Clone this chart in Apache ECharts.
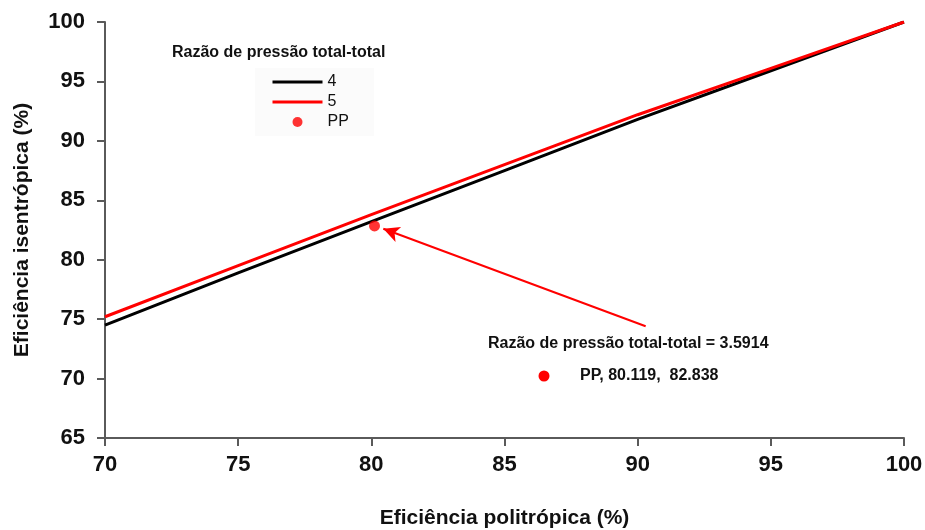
<!DOCTYPE html>
<html><head><meta charset="utf-8">
<script src="https://cdn.jsdelivr.net/npm/echarts@6/dist/echarts.min.js"></script>
<style>html,body{margin:0;padding:0;background:#fff}#c{width:925px;height:530px}</style>
</head><body><div id="c"></div>
<script>
// Data
const polytropic = [70, 75, 80, 85, 90, 95, 100];
const isentropic4 = [74.5, 78.9, 83.2, 87.5, 91.8, 95.9, 100];
const isentropic5 = [75.2, 79.5, 83.8, 88.0, 92.2, 96.1, 100];
const ppPoint = [80.119, 82.838];
const arrowFrom = [90.3, 74.4];
const arrowTo = [80.45, 82.6];
const seriesNames = ['4', '5', 'PP'];
const legendTitle = 'Razão de pressão total-total';
const noteLine1 = 'Razão de pressão total-total = 3.5914';
const noteLine2 = 'PP, 80.119,  82.838';

const FONT = "'Liberation Sans', Arial, sans-serif";
const chart = echarts.init(document.getElementById('c'), null, {renderer: 'canvas'});
const axisCol = '#5a5a5a';
const hiddenSymbol = {color: 'rgba(0,0,0,0)', borderColor: 'rgba(0,0,0,0)', borderWidth: 0};

chart.setOption({
  animation: false,
  backgroundColor: '#ffffff',
  grid: {left: 105, right: 21, top: 22, bottom: 92, containLabel: false, outerBoundsMode: 'none'},
  xAxis: {
    type: 'value', min: 70, max: 100, interval: 5,
    name: 'Eficiência politrópica (%)', nameLocation: 'middle', nameGap: 70,
    nameTextStyle: {fontFamily: FONT, fontWeight: 'bold', fontSize: 21, color: '#111'},
    axisLine: {show: true, onZero: false, lineStyle: {color: axisCol, width: 2}},
    axisTick: {show: true, length: 8, lineStyle: {color: axisCol, width: 2}},
    axisLabel: {fontFamily: FONT, fontWeight: 'bold', fontSize: 22, color: '#111', margin: 16},
    splitLine: {show: false}
  },
  yAxis: {
    type: 'value', min: 65, max: 100, interval: 5,
    name: 'Eficiência isentrópica (%)', nameLocation: 'middle', nameGap: 72,
    nameTextStyle: {fontFamily: FONT, fontWeight: 'bold', fontSize: 21, color: '#111'},
    axisLine: {show: true, onZero: false, lineStyle: {color: axisCol, width: 2}},
    axisTick: {show: true, length: 8, lineStyle: {color: axisCol, width: 2}},
    axisLabel: {fontFamily: FONT, fontWeight: 'bold', fontSize: 22, color: '#111', margin: 20},
    splitLine: {show: false}
  },
  legend: {
    orient: 'vertical', left: 255, top: 68,
    padding: [6, 25, 6, 16],
    backgroundColor: '#fbfbfb',
    itemWidth: 50, itemHeight: 10, itemGap: 4,
    textStyle: {fontFamily: FONT, fontSize: 16, color: '#111'},
    data: [
      {name: seriesNames[0], itemStyle: hiddenSymbol, lineStyle: {color: '#000000', width: 3}},
      {name: seriesNames[1], itemStyle: hiddenSymbol, lineStyle: {color: '#ff0000', width: 3}},
      {name: seriesNames[2], icon: 'circle'}
    ]
  },
  graphic: [
    {type: 'text', left: 172, top: 45, style: {text: legendTitle, font: 'bold 16px ' + FONT, fill: '#111'}},
    {type: 'text', left: 488, top: 336, style: {text: noteLine1, font: 'bold 16px ' + FONT, fill: '#111'}},
    {type: 'circle', shape: {cx: 544, cy: 376, r: 5.5}, style: {fill: '#ff0000'}},
    {type: 'text', left: 580, top: 368, style: {text: noteLine2, font: 'bold 16px ' + FONT, fill: '#111'}}
  ],
  series: [
    {
      name: seriesNames[0], type: 'line', showSymbol: false, symbol: 'none', smooth: false,
      data: polytropic.map((x, i) => [x, isentropic4[i]]),
      lineStyle: {color: '#000000', width: 3}, itemStyle: {color: '#000000'}
    },
    {
      name: seriesNames[1], type: 'line', showSymbol: false, symbol: 'none', smooth: false,
      data: polytropic.map((x, i) => [x, isentropic5[i]]),
      lineStyle: {color: '#ff0000', width: 3}, itemStyle: {color: '#ff0000'}
    },
    {
      name: seriesNames[2], type: 'scatter', symbol: 'circle', symbolSize: 11,
      data: [ppPoint], itemStyle: {color: '#ff0000'}, z: 5,
      markLine: {
        silent: true, symbol: ['none', 'arrow'], symbolSize: [12, 16],
        label: {show: false},
        lineStyle: {color: '#ff0000', width: 2, type: 'solid'},
        data: [[{coord: arrowFrom}, {coord: arrowTo}]]
      }
    }
  ]
});
</script></body></html>
